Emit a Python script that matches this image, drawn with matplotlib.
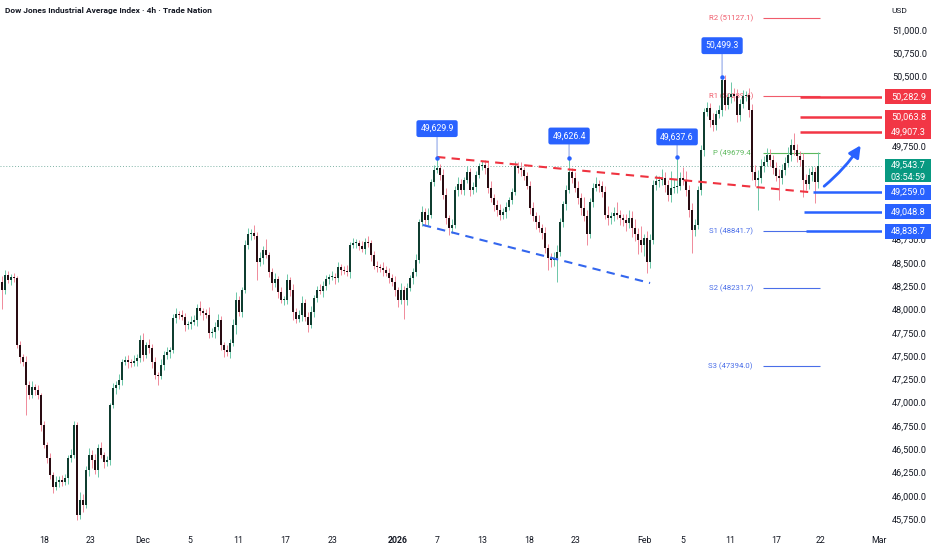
import numpy as np
import matplotlib
matplotlib.use("Agg")
import matplotlib.pyplot as plt
from matplotlib.patches import FancyArrowPatch, Rectangle
from matplotlib.ticker import FuncFormatter

plt.rcParams["font.family"] = ["Roboto", "DejaVu Sans"]

TITLE = "Dow Jones Industrial Average Index \u00b7 4h \u00b7 Trade Nation"

# 4h closes (bar index = one 4h candle)
FIRST_OPEN = 48300
CLOSES = [
    48209, 48370, 48316, 48349, 48338, 47619, 47490, 47436, 47189, 47082,
    47168, 47136, 47082, 46760, 46545, 46406, 46223, 46095, 46148, 46170,
    46148, 46191, 46406, 46438, 46760, 45794, 45955, 45901, 46277, 46438,
    46384, 46277, 46513, 46438, 46363, 46384, 46975, 47157, 47189, 47243,
    47436, 47458, 47436, 47426, 47447, 47479, 47672, 47511, 47619, 47587,
    47436, 47297, 47286, 47404, 47511, 47544, 47565, 47909, 47952, 47941,
    47919, 47833, 47844, 47866, 47887, 48016, 47984, 47962, 47941, 47748,
    47758, 47812, 47887, 47619, 47565, 47544, 47640, 47833, 48102, 47973,
    48209, 48692, 48810, 48821, 48789, 48510, 48553, 48639, 48585, 48402,
    48284, 48327, 48188, 48102, 48102, 48316, 48209, 47973, 47898, 47941,
    48070, 47919, 47833, 47973, 48123, 48209, 48198, 48252, 48327, 48349,
    48349, 48338, 48456, 48424, 48413, 48402, 48692, 48714, 48714, 48681,
    48649, 48724, 48714, 48585, 48467, 48456, 48445, 48424, 48392, 48338,
    48295, 48209, 48102, 48209, 48102, 48231, 48338, 48402, 48531, 48939,
    49046, 48961, 49014, 49368, 49497, 49519, 49444, 49229, 48982, 48875,
    48907, 49283, 49347, 49283, 49390, 49476, 49283, 49315, 49444, 49540,
    49551, 49519, 49304, 49197, 49122, 49068, 49014, 49046, 49100, 49175,
    49261, 49540, 49519, 49497, 49433, 49325, 49089, 49003, 48939, 48875,
    48821, 48660, 48553, 48531, 48553, 48617, 48939, 49132, 49283, 49476,
    49411, 49304, 49197, 49089, 49003, 48810, 49154, 49304, 49347, 49325,
    49261, 49014, 48982, 49003, 49036, 49014, 48982, 48961, 48928, 48982,
    48875, 48810, 48746, 48692, 48767, 48510, 48746, 49336, 49379, 49390,
    49411, 49336, 49229, 49304, 49315, 49325, 49411, 49390, 49283, 49068,
    48853, 48907, 49283, 49712, 50120, 50163, 50034, 49980, 50098, 50141,
    50463, 50195, 50281, 50313, 50292, 50088, 50206, 50292, 50302, 50141,
    49476, 49390, 49411, 49540, 49583, 49658, 49605, 49519, 49433, 49411,
    49497, 49572, 49658, 49766, 49712, 49648, 49605, 49390, 49347, 49444,
    49476, 49368, 49544,
]
# wick lengths above / below the body, in index points
UP_WICK = [
    60, 50, 40, 30, 45, 20, 40, 30, 70, 40,
    60, 30, 50, 20, 40, 30, 50, 30, 60, 40,
    50, 40, 30, 60, 40, 30, 90, 60, 40, 80,
    50, 70, 40, 60, 30, 40, 20, 50, 40, 60,
    30, 40, 50, 30, 60, 40, 50, 80, 30, 60,
    40, 50, 30, 60, 40, 50, 30, 40, 60, 30,
    50, 40, 30, 60, 50, 40, 70, 30, 40, 90,
    40, 50, 60, 40, 30, 50, 40, 60, 90, 40,
    30, 50, 60, 40, 90, 40, 60, 40, 120, 30,
    40, 60, 30, 50, 40, 70, 30, 60, 40, 50,
    80, 40, 50, 60, 30, 40, 60, 50, 40, 30,
    60, 40, 50, 30, 40, 60, 30, 50, 40, 30,
    50, 40, 60, 30, 40, 50, 30, 60, 40, 50,
    40, 60, 30, 70, 40, 50, 30, 40, 60, 30,
    60, 40, 70, 30, 50, 111, 40, 60, 80, 30,
    60, 40, 70, 50, 30, 60, 40, 50, 40, 30,
    40, 50, 60, 70, 40, 50, 60, 40, 50, 30,
    40, 50, 40, 60, 30, 40, 50, 60, 40, 70,
    40, 60, 40, 50, 60, 80, 40, 30, 50, 150,
    40, 60, 80, 50, 120, 60, 40, 50, 70, 40,
    50, 60, 100, 40, 60, 120, 50, 40, 60, 90,
    70, 100, 60, 150, 40, 80, 60, 50, 60, 40,
    100, 60, 50, 180, 90, 313, 60, 120, 100, 50,
    70, 60, 40, 50, 40, 60, 50, 80, 40, 50,
    36, 50, 40, 130, 60, 70, 50, 60, 40, 80,
    60, 80, 90, 70, 60, 80, 60, 50, 60, 70,
    60, 70, 90, 60, 128, 60, 50, 70, 60, 80,
    60, 50, 146,
]
DN_WICK = [
    200, 40, 30, 50, 40, 30, 60, 40, 322, 40,
    30, 50, 40, 60, 30, 50, 40, 60, 30, 50,
    40, 30, 60, 40, 30, 55, 40, 70, 30, 60,
    90, 40, 70, 30, 60, 40, 50, 30, 60, 40,
    50, 30, 60, 40, 30, 50, 40, 60, 30, 50,
    60, 40, 100, 30, 50, 40, 60, 30, 50, 40,
    30, 60, 40, 50, 30, 60, 40, 80, 30, 50,
    40, 60, 30, 50, 70, 40, 60, 30, 100, 40,
    50, 30, 40, 60, 30, 190, 40, 60, 30, 50,
    80, 40, 60, 30, 50, 40, 60, 90, 40, 30,
    60, 40, 70, 30, 50, 40, 30, 60, 40, 50,
    30, 60, 40, 50, 30, 40, 60, 30, 50, 40,
    30, 50, 40, 60, 30, 50, 40, 60, 30, 50,
    40, 60, 80, 40, 200, 50, 30, 60, 40, 30,
    40, 60, 50, 30, 40, 30, 50, 40, 60, 80,
    50, 30, 60, 40, 50, 30, 60, 40, 50, 30,
    40, 60, 50, 40, 70, 60, 50, 40, 60, 30,
    40, 30, 50, 60, 40, 30, 60, 50, 70, 40,
    60, 50, 130, 70, 60, 258, 40, 50, 60, 30,
    50, 40, 60, 70, 50, 120, 40, 50, 30, 60,
    50, 40, 70, 60, 50, 40, 80, 60, 90, 50,
    100, 70, 150, 80, 120, 118, 60, 40, 50, 60,
    50, 80, 60, 70, 50, 60, 40, 50, 60, 80,
    250, 60, 40, 50, 60, 40, 80, 60, 50, 40,
    60, 50, 40, 60, 50, 80, 60, 40, 50, 70,
    90, 60, 322, 50, 60, 40, 70, 60, 50, 236,
    60, 50, 40, 60, 50, 70, 60, 183, 60, 50,
    70, 225, 60,
]
assert len(CLOSES) == len(UP_WICK) == len(DN_WICK)

DATE_TICKS = [14.2, 29.5, 47, 62.7, 78.6, 94.3, 110.3, 132, 145, 160.2,
              175.7, 191.2, 214.3, 226.8, 242.7, 258, 272.7, 292.3]
DATE_LABELS = ["18", "23", "Dec", "5", "11", "17", "23", "2026", "7", "13",
               "18", "23", "Feb", "5", "11", "17", "22", "Mar"]
PRICE_TICKS = list(range(45750, 51001, 250))

PIVOT_BARS = [145, 189, 225, 240]
PIVOT_TEXT = ["49,629.9", "49,626.4", "49,637.6", "50,499.3"]
PIVOT_LIFT = [29, 22, 20, 31]   # px above the high

LEVEL_NAMES = ["R2", "R1", "P", "S1", "S2", "S3"]
LEVEL_VALUES = [51127.1, 50289.4, 49679.4, 48841.7, 48231.7, 47394.0]
LEVEL_COLORS = ["#f05b6b", "#f05b6b", "#5cb85c", "#4a6ee8", "#4a6ee8", "#4a6ee8"]
LEVEL_SPAN = (253.7, 272.7)

RES_LINES = [50282.9, 50063.8, 49907.3]
RES_START = [266, 266, 266]
SUP_LINES = [49259.0, 49048.8, 48838.7]
SUP_START = [270.3, 267.3, 268]

LAST_PRICE = 49543.7
COUNTDOWN = "03:54:59"

UPPER_TREND = ([145, 268.7], [49637, 49261])
LOWER_TREND = ([140.3, 216], [48907, 48284])
ARROW = ([273.3, 286.7], [49304, 49787])

RED, BLUE, GREEN = "#f23645", "#2962ff", "#089981"
TXT = "#131722"

closes = np.array(CLOSES, dtype=float)
opens = np.concatenate([[FIRST_OPEN], closes[:-1]])
highs = np.maximum(opens, closes) + np.array(UP_WICK)
lows = np.minimum(opens, closes) - np.array(DN_WICK)
idx = np.arange(len(closes))
up = closes >= opens

fig = plt.figure(figsize=(9.32, 5.5), dpi=100)
ax = fig.add_axes([0, 20 / 550, 882 / 932, 530 / 550])
ax.set_xlim(-0.667, 293.3)
ax.set_ylim(45633, 51322)
for s in ax.spines.values():
    s.set_visible(False)

# candles
ax.vlines(idx[up], lows[up], highs[up], color="#6cc7a8", lw=0.7, zorder=3)
ax.vlines(idx[~up], lows[~up], highs[~up], color="#f08a9a", lw=0.7, zorder=3)
body = np.maximum(np.abs(closes - opens), 10)
ax.bar(idx[up], body[up], bottom=np.minimum(opens, closes)[up], width=0.62,
       color="#0f3d30", linewidth=0, zorder=4)
ax.bar(idx[~up], body[~up], bottom=np.minimum(opens, closes)[~up], width=0.62,
       color="#2a0c12", linewidth=0, zorder=4)

# last price dotted line
ax.axhline(LAST_PRICE, color="#7fb3a6", lw=0.7, ls=(0, (1, 2)), zorder=1)

# pivot point levels
for name, val, col in zip(LEVEL_NAMES, LEVEL_VALUES, LEVEL_COLORS):
    ax.hlines(val, *LEVEL_SPAN, color=col, lw=0.8, zorder=1)
    ax.text(LEVEL_SPAN[0] - 3.4, val, "%s (%.1f)" % (name, val), color=col,
            fontsize=5.6, ha="right", va="center", zorder=1)

# trendlines
ax.plot(*UPPER_TREND, color="#ef3340", lw=1.5, ls=(0, (4, 3)), zorder=5)
ax.plot(*LOWER_TREND, color="#3366ee", lw=1.5, ls=(0, (4, 3)), zorder=5)

# horizontal levels
xr = ax.get_xlim()[1]
for v, x0 in zip(RES_LINES, RES_START):
    ax.hlines(v, x0, xr, color=RED, lw=1.8, zorder=5)
for v, x0 in zip(SUP_LINES, SUP_START):
    ax.hlines(v, x0, xr, color=BLUE, lw=1.8, zorder=5)

# swing-high labels
for b, txt, lift in zip(PIVOT_BARS, PIVOT_TEXT, PIVOT_LIFT):
    ax.annotate(txt, xy=(b, highs[b]), xytext=(0, lift * 0.72),
                textcoords="offset points", ha="center", va="center",
                color="white", fontsize=6.3, zorder=7,
                bbox=dict(boxstyle="round,pad=0.45,rounding_size=0.25",
                          fc=BLUE, ec="none"),
                arrowprops=dict(arrowstyle="-", color="#8fa6e8", lw=0.8,
                                shrinkA=0, shrinkB=0))
    ax.plot(b, highs[b], "o", ms=2.2, color=BLUE, zorder=7)

# arrow
arr = FancyArrowPatch((ARROW[0][0], ARROW[1][0]), (ARROW[0][1], ARROW[1][1]),
                      arrowstyle="-|>,head_length=7,head_width=3.5",
                      connectionstyle="arc3,rad=0.08", lw=2.0,
                      color=BLUE, zorder=7)
ax.add_patch(arr)

# price axis; tick labels that sit under a price tag are left out
ppx = 10.734  # index points per pixel
tags = RES_LINES + SUP_LINES[:2] + [LAST_PRICE - 4 * ppx]
ax.yaxis.tick_right()
ax.set_yticks(PRICE_TICKS)
ax.yaxis.set_major_formatter(FuncFormatter(
    lambda v, p: "" if min(abs(v - t) for t in tags) < 11 * ppx
    else "{:,.1f}".format(v)))
ax.tick_params(axis="y", length=0, pad=7.2, labelsize=6.6, labelcolor=TXT)
ax.set_xticks(DATE_TICKS)
ax.set_xticklabels(DATE_LABELS)
ax.tick_params(axis="x", length=0, pad=4, labelsize=6.3, labelcolor=TXT)
for t in ax.get_xticklabels():
    if t.get_text() == "2026":
        t.set_fontweight("bold")

tr = ax.get_yaxis_transform()
lx = 1 + 9 / 882
for vals, col in ((RES_LINES, RED), (SUP_LINES, BLUE)):
    for v in vals:
        ax.add_patch(Rectangle((1.003, v - 7.5 * ppx), 0.053, 15 * ppx, fc=col,
                               ec="none", transform=tr, clip_on=False, zorder=8))
        ax.text(lx, v, "{:,.1f}".format(v), transform=tr, color="white",
                fontsize=6.6, va="center", ha="left", zorder=9, clip_on=False)
ax.add_patch(Rectangle((1.003, LAST_PRICE - 16 * ppx), 0.053, 23 * ppx, fc=GREEN,
                       ec="none", transform=tr, clip_on=False, zorder=8))
ax.text(lx, LAST_PRICE, "{:,.1f}".format(LAST_PRICE), transform=tr,
        color="white", fontsize=6.6, va="center", ha="left", zorder=9)
ax.text(lx, LAST_PRICE - 12 * ppx, COUNTDOWN, transform=tr,
        color="white", fontsize=6.6, va="center", ha="left", zorder=9)

fig.text(5 / 932, 1 - 10 / 550, TITLE, fontsize=6.0, fontweight="semibold",
         color=TXT, va="center", ha="left")
fig.text(891 / 932, 1 - 11 / 550, "USD", fontsize=6, color=TXT,
         va="center", ha="left")

fig.savefig("out.png", dpi=100, facecolor="white")
